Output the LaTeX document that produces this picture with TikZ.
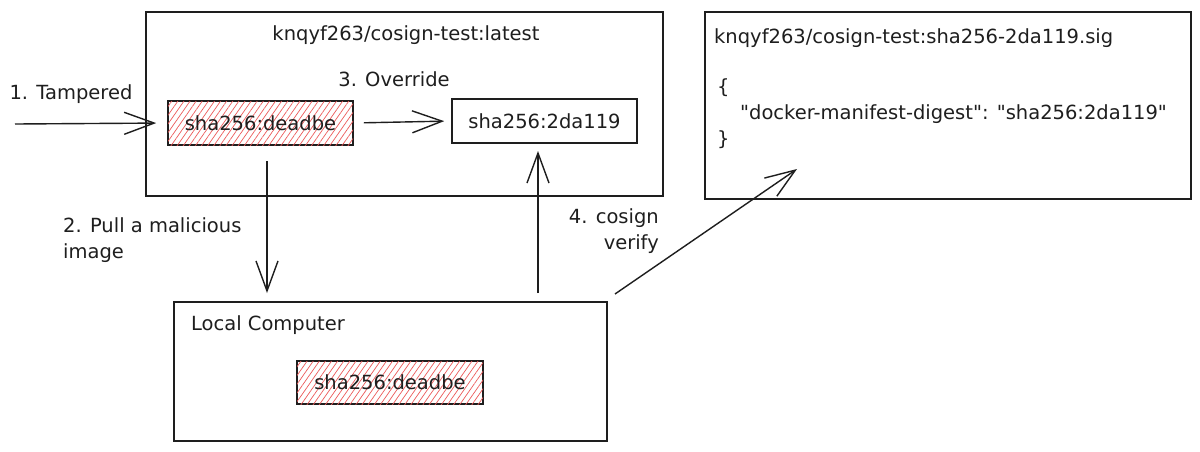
\documentclass[tikz,border=0pt]{standalone}
\usepackage{fontspec}
\setmainfont{DejaVu Sans}[Ligatures=TeXOff]
\usetikzlibrary{arrows.meta,patterns.meta}
\definecolor{ink}{HTML}{1E1E1E}
\definecolor{hatch}{HTML}{EC5A5A}
\tikzset{
  frame/.style={draw=ink, line width=1.6pt, inner sep=0pt, anchor=north west},
  hatched/.style={draw=ink, line width=1.6pt, inner sep=0pt, fill=white,
     postaction={pattern={Lines[angle=55,distance=5pt,line width=0.7pt]}, pattern color=hatch}},
  plain/.style={draw=ink, line width=1.6pt, inner sep=0pt, fill=white},
  lbl/.style={text=ink, font=\fontsize{19.5}{26}\selectfont, inner sep=0pt},
  arr/.style={draw=ink, line width=1.4pt, -{Straight Barb[length=30pt,width=22pt,line width=1.4pt]}}
}
\begin{document}
\begin{tikzpicture}[x=1pt,y=-1pt]
\useasboundingbox[fill=white] (0,0) rectangle (1200,451);
% registry box
\node[frame, minimum width=517pt, minimum height=184pt] (reg) at (145,11) {};
\node[lbl] (regt) at (406,35) {knqyf263/cosign-test:latest};
\node[hatched, minimum width=185pt, minimum height=44pt] (dead) at (260.5,123) {};
\node[lbl] (deadt) at (dead.center) {sha256:deadbe};
\node[plain, minimum width=185pt, minimum height=44pt] (good) at (544.5,121) {};
\node[lbl] (goodt) at (good.center) {sha256:2da119};
\node[lbl] (ovr) at (394,79) {3. Override};
% signature box
\node[frame, minimum width=486pt, minimum height=187pt] (sig) at (704,11) {};
\node[lbl, anchor=west] (sigt) at (714,38) {knqyf263/cosign-test:sha256-2da119.sig};
\node[lbl, anchor=west] (ob) at (717,88) {\{};
\node[lbl, anchor=west] (dig) at (740,114) {"docker-manifest-digest": "sha256:2da119"};
\node[lbl, anchor=west] (cb) at (717,140) {\}};
% local computer
\node[frame, minimum width=433pt, minimum height=139pt] (local) at (173,301) {};
\node[lbl, anchor=west] (localt) at (191,325) {Local Computer};
\node[hatched, minimum width=186pt, minimum height=43pt] (dead2) at (390,382.5) {};
\node[lbl] (dead2t) at (dead2.center) {sha256:deadbe};
% labels
\node[lbl] (tamp) at (71,94) {1. Tampered};
\node[lbl, anchor=west, align=left] (pull) at (63,240) {2. Pull a malicious\\image};
\node[lbl, anchor=east, align=right] (ver) at (659,231) {4. cosign\\verify};
% connector ends
\coordinate (in1) at (15,124);
\coordinate (p2s) at (267,161);
\coordinate (p2e) at (267,293);
\coordinate (p4s) at (538,293);
\coordinate (p4e) at (538,151);
\coordinate (p5s) at (615,294);
\coordinate (p5e) at (797,169);
% arrows
\draw[arr, shorten >=11pt] (in1) -- (dead.west);
\draw[arr, shorten <=10pt, shorten >=7pt] (dead.east) -- (good.west);
\draw[arr] (p2s) -- (p2e);
\draw[arr] (p4s) -- (p4e);
\draw[arr] (p5s) -- (p5e);
\end{tikzpicture}
\end{document}
